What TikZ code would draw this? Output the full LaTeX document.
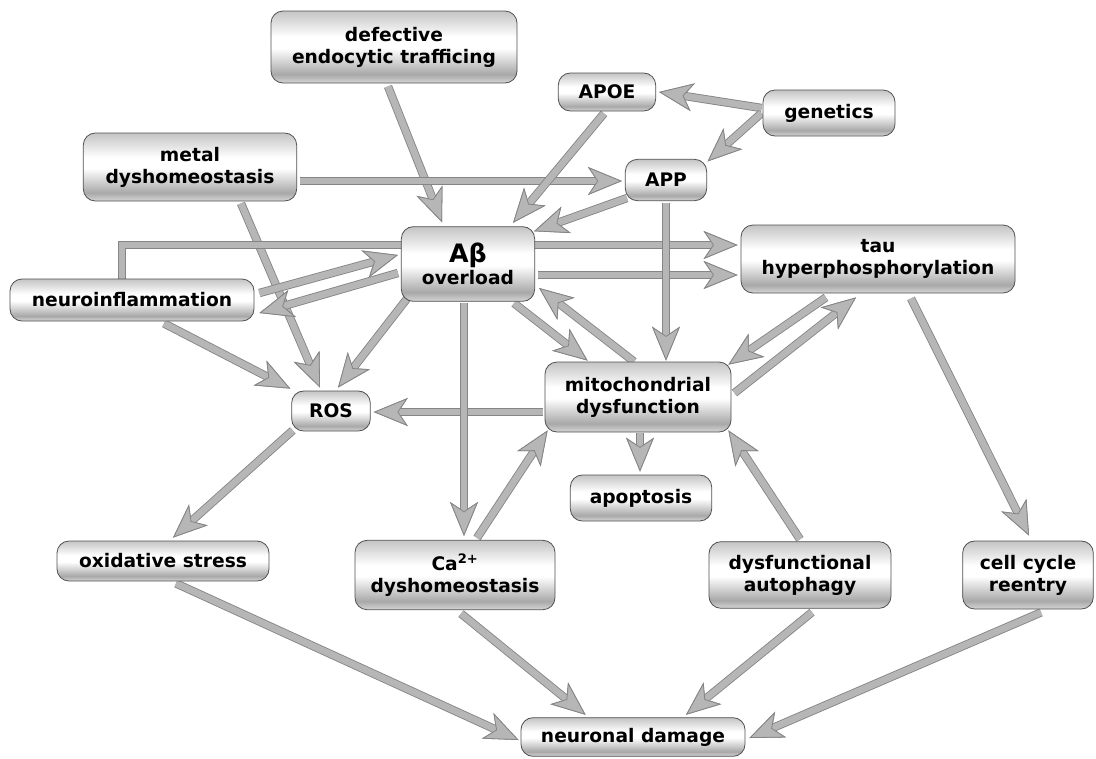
\documentclass[tikz,border=0pt]{standalone}
\usepackage{fontspec}
\setmainfont{DejaVu Sans}
\usepackage{tikz}
\usetikzlibrary{arrows.meta, backgrounds}
\definecolor{arrowfill}{HTML}{B6B6B6}
\definecolor{arrowline}{HTML}{858585}
\definecolor{boxline}{HTML}{505050}
\definecolor{shadetop}{HTML}{C4C4C4}
\definecolor{shadelow}{HTML}{A8A8A8}
\definecolor{shadebase}{HTML}{D6D6D6}
\pgfdeclareverticalshading{boxshade}{100bp}{color(0bp)=(shadebase); color(25bp)=(shadebase); color(31bp)=(shadelow); color(49bp)=(white); color(57bp)=(white); color(75bp)=(shadetop); color(100bp)=(shadetop)}

\begin{document}
\begin{tikzpicture}[x=0.75pt, y=-0.75pt,
  box/.style={draw=boxline, line width=0.6pt, rounded corners=9pt, shading=boxshade,
    align=center, inner sep=0pt, font=\bfseries\fontsize{14}{16.5}\selectfont},
  fat/.style={draw=arrowfill, line width=5pt, line join=miter,
    preaction={draw=arrowline, line width=6.3pt},
    -{Stealth[length=25.5pt, width=21pt, inset=7pt, fill=arrowfill, color=arrowline, line width=0.6pt]}}]
\useasboundingbox (0,0) rectangle (1096,758);
\node[box, minimum width=184.5pt, minimum height=54pt] (defect) at (394,47) {defective\\endocytic trafficing};
\node[box, minimum width=160pt, minimum height=51pt] (metal) at (190,167) {metal\\dyshomeostasis};
\node[box, minimum width=73pt, minimum height=28.5pt] (apoe) at (607,92) {APOE};
\node[box, minimum width=99pt, minimum height=34.5pt] (genet) at (829,113) {genetics};
\node[box, minimum width=61pt, minimum height=31pt] (app) at (666,180) {APP};
\node[box, minimum width=100pt, minimum height=56pt] (abeta) at (468,264) {{\fontsize{19}{21}\selectfont Aβ}\\overload};
\node[box, minimum width=205.5pt, minimum height=51pt] (tau) at (878,259) {tau\\hyperphosphorylation};
\node[box, minimum width=183pt, minimum height=31.5pt] (neuro) at (132,300) {neuroinflammation};
\node[box, minimum width=59pt, minimum height=30pt] (ros) at (331,411) {ROS};
\node[box, minimum width=139.5pt, minimum height=52.5pt] (mito) at (638,397) {mitochondrial\\dysfunction};
\node[box, minimum width=106pt, minimum height=34.5pt] (apopt) at (641,498) {apoptosis};
\node[box, minimum width=159pt, minimum height=30pt] (oxid) at (163,561) {oxidative stress};
\node[box, minimum width=150pt, minimum height=52pt] (calc) at (455,575) {Ca\textsuperscript{2+}\\dyshomeostasis};
\node[box, minimum width=136.5pt, minimum height=50pt] (autoph) at (800,575) {dysfunctional\\autophagy};
\node[box, minimum width=98pt, minimum height=51pt] (cellc) at (1028,575) {cell cycle\\reentry};
\node[box, minimum width=168pt, minimum height=29pt] (neuron) at (633,737) {neuronal damage};
\begin{pgfonlayer}{background}
\draw[fat] ([shift={(-6,3)}]defect.south) -- ([shift={(-26,-4)}]abeta.north);
\draw[fat] ([shift={(3,14)}]metal.east) -- ([shift={(-3,1)}]app.west);
\draw[fat] ([shift={(51,2)}]metal.south) -- ([shift={(-11,-3)}]ros.north);
\draw[fat] ([shift={(32,2)}]neuro.south) -- ([shift={(-1,-2)}]ros.north west);
\draw[fat] ([shift={(5,-7)}]neuro.east) -- ([shift={(-3,-9)}]abeta.west);
\draw[fat] ([shift={(-3,9)}]abeta.west) -- ([shift={(5,13)}]neuro.east);
\draw[fat] ([shift={(-10,0)}]neuro.north) |- ([shift={(-3,-14)}]tau.west);
\draw[fat] ([shift={(3,11)}]abeta.east) -- ([shift={(-3,16)}]tau.west);
\draw[fat] ([shift={(-3,2)}]apoe.south) -- ([shift={(-22,-3.5)}]abeta.north east);
\draw[fat] ([shift={(2,-3)}]app.south west) -- ([shift={(-1,5)}]abeta.north east);
\draw[fat] ([shift={(-1,-5)}]genet.west) -- ([shift={(3,0)}]apoe.east);
\draw[fat] ([shift={(-1,0)}]genet.west) -- ([shift={(0.5,2.5)}]app.north east);
\draw[fat] ([shift={(0,2)}]app.south) -- ([shift={(28,-1)}]mito.north);
\draw[fat] ([shift={(-21,1.5)}]abeta.south east) -- ([shift={(43,-1)}]mito.north west);
\draw[fat] ([shift={(-4,0)}]mito.north) -- ([shift={(4,24)}]abeta.east);
\draw[fat] ([shift={(-52,4)}]tau.south) -- ([shift={(-3,3)}]mito.north east);
\draw[fat] ([shift={(3,-4)}]mito.east) -- ([shift={(-22,4)}]tau.south);
\draw[fat] ([shift={(33,5)}]tau.south) -- ([shift={(1,-5)}]cellc.north);
\draw[fat] ([shift={(-2,15)}]mito.west) -- ([shift={(3,1)}]ros.east);
\draw[fat] ([shift={(2,1)}]mito.south) -- ([shift={(-1,-3)}]apopt.north);
\draw[fat] ([shift={(6,-3)}]abeta.south west) -- ([shift={(7,-3)}]ros.north);
\draw[fat] ([shift={(-4,1.5)}]abeta.south) -- ([shift={(9,-4)}]calc.north);
\draw[fat] ([shift={(22,-2)}]calc.north) -- ([shift={(3,-2)}]mito.south west);
\draw[fat] ([shift={(1.5,-1)}]ros.south west) -- ([shift={(10,-3)}]oxid.north);
\draw[fat] ([shift={(0,-2)}]autoph.north) -- ([shift={(-3,-2)}]mito.south east);
\draw[fat] ([shift={(13,2)}]oxid.south) -- ([shift={(-2,3)}]neuron.west);
\draw[fat] ([shift={(6,3.5)}]calc.south) -- ([shift={(65,-2.5)}]neuron.north west);
\draw[fat] ([shift={(12,3.5)}]autoph.south) -- ([shift={(53,-2.5)}]neuron.north);
\draw[fat] ([shift={(13,3)}]cellc.south) -- ([shift={(4,1)}]neuron.east);
\end{pgfonlayer}
\end{tikzpicture}
\end{document}
